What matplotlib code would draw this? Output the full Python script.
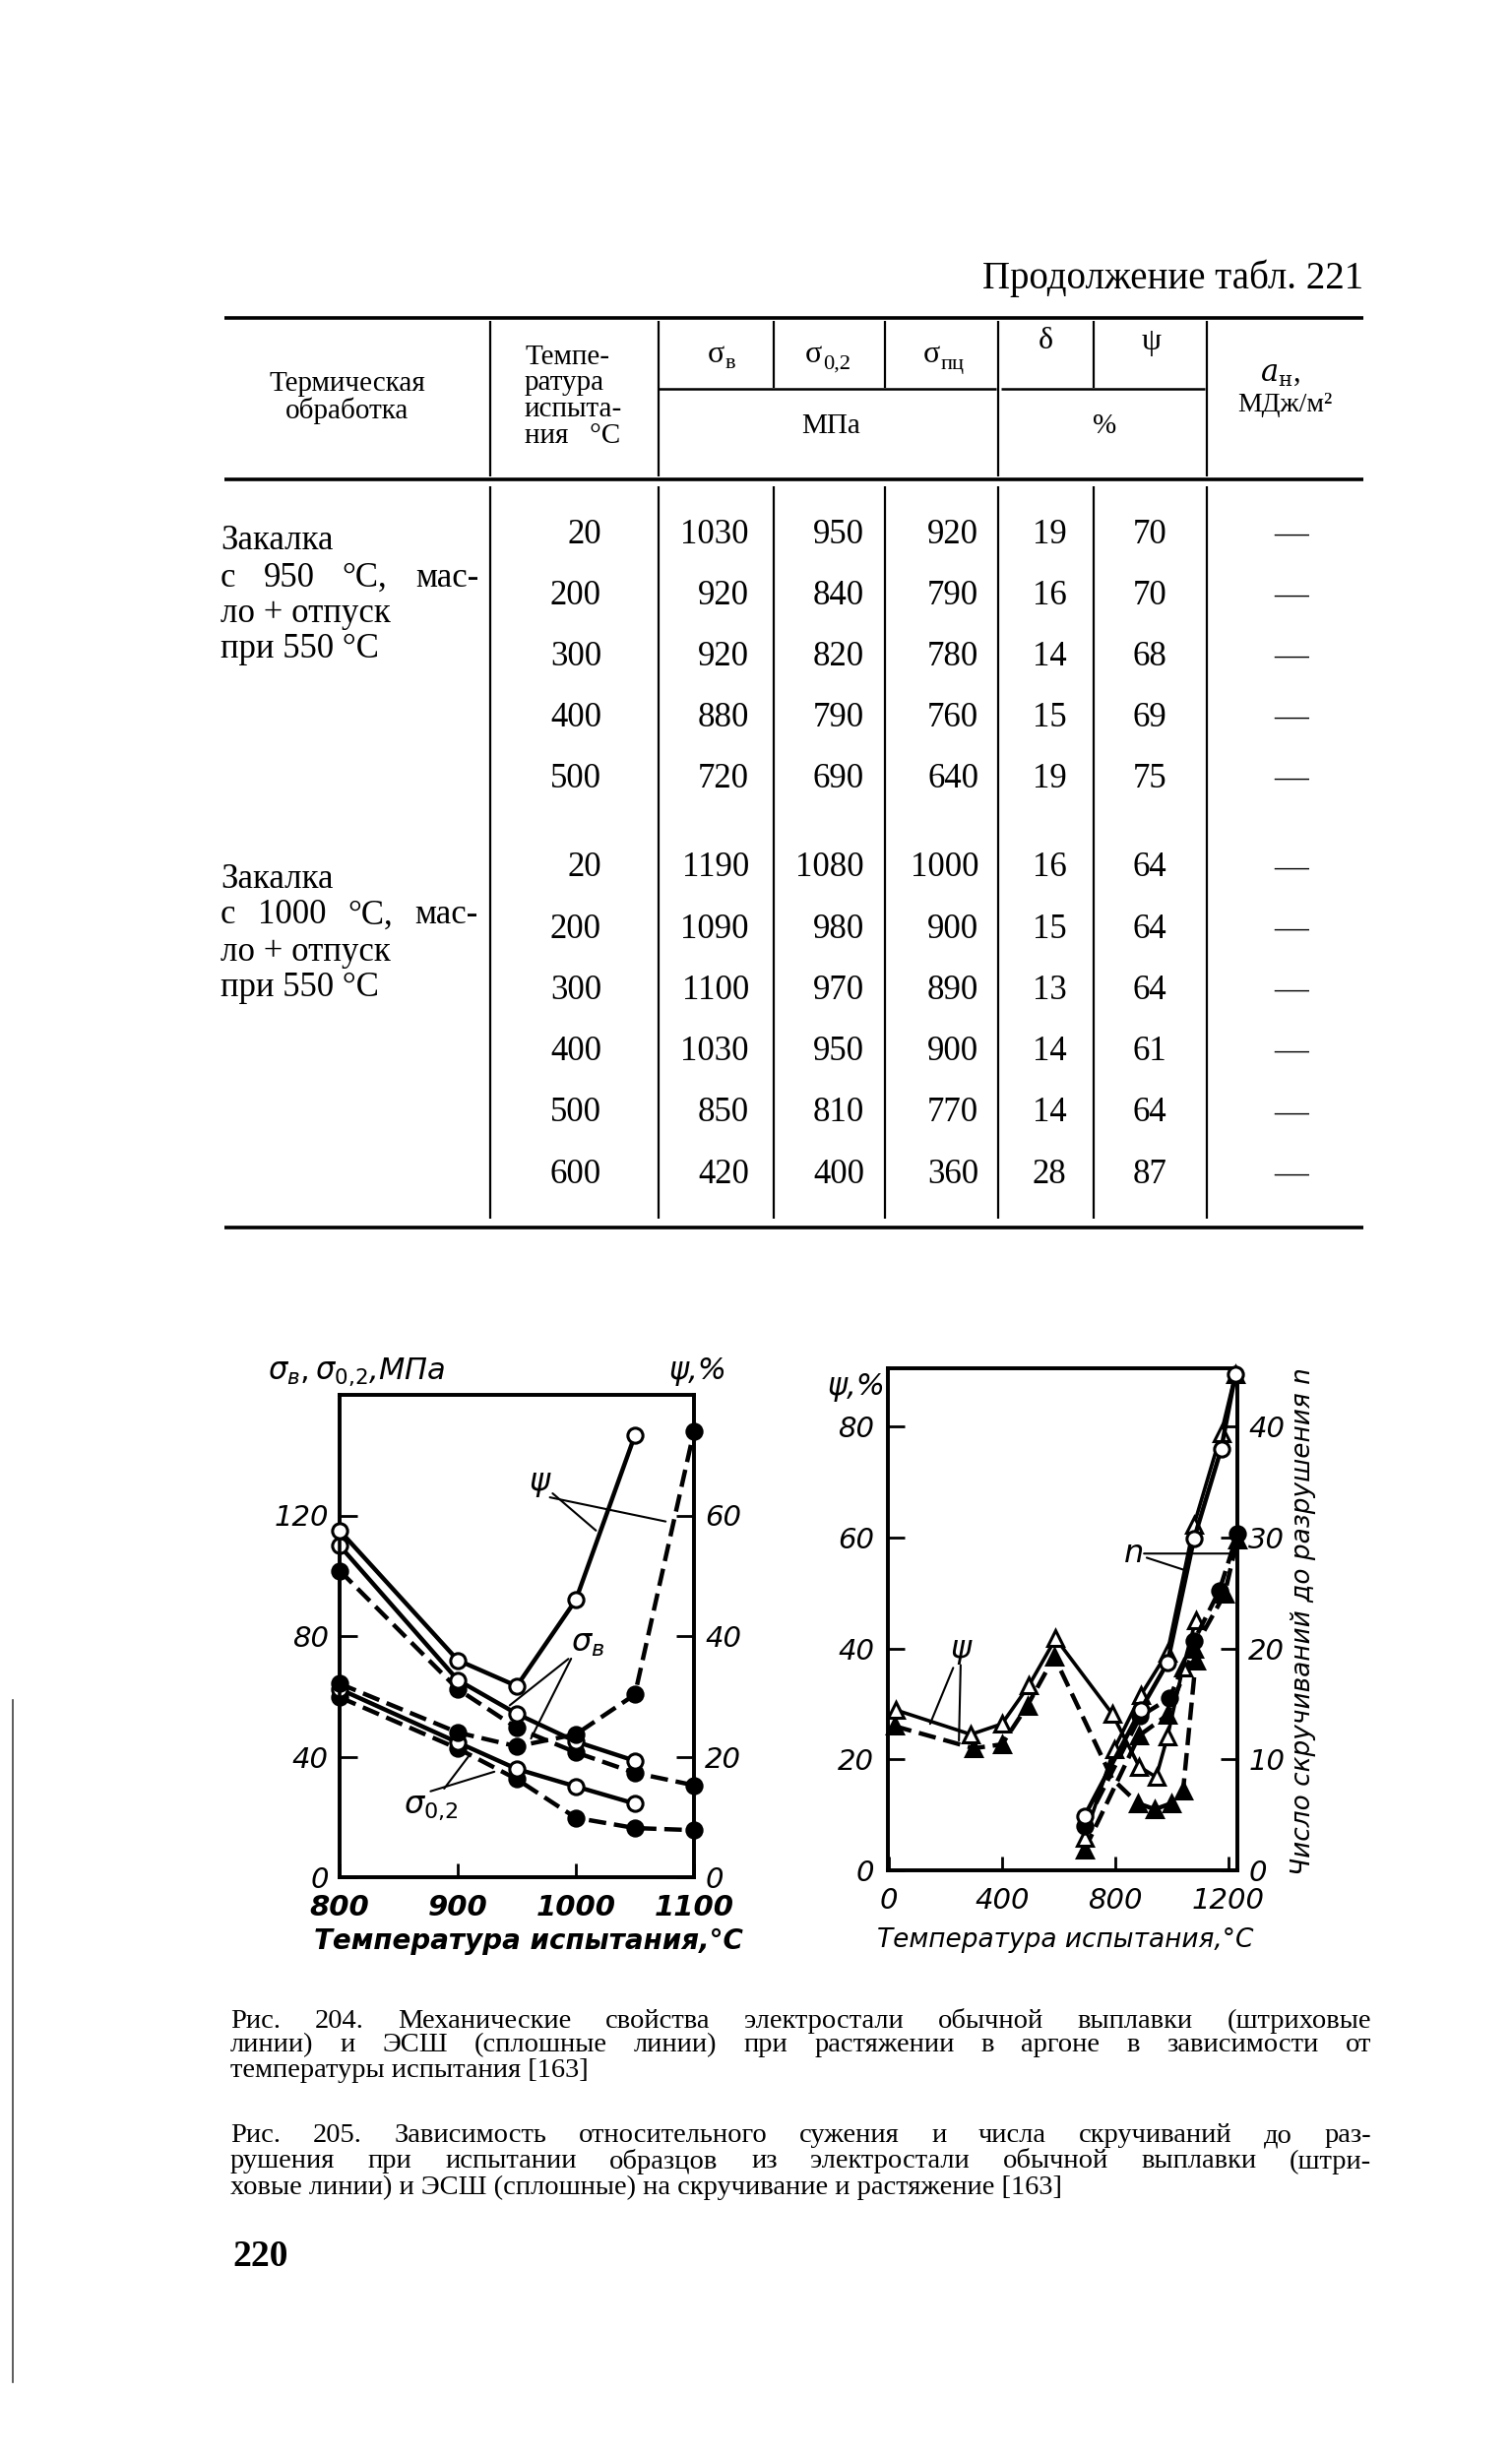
import matplotlib
matplotlib.use("Agg")
import matplotlib.pyplot as plt

plt.rcParams["mathtext.fontset"] = "dejavusans"
plt.rcParams["mathtext.default"] = "it"

# ---------------- table 221 (continued) ----------------
treat_1 = ["Закалка", "с 950 °С, мас-", "ло + отпуск", "при 550 °С"]
treat_2 = ["Закалка", "с 1000 °С, мас-", "ло + отпуск", "при 550 °С"]
temps_1 = [20, 200, 300, 400, 500]
sb_1 = [1030, 920, 920, 880, 720]
s02_1 = [950, 840, 820, 790, 690]
spc_1 = [920, 790, 780, 760, 640]
delta_1 = [19, 16, 14, 15, 19]
psi_1 = [70, 70, 68, 69, 75]
temps_2 = [20, 200, 300, 400, 500, 600]
sb_2 = [1190, 1090, 1100, 1030, 850, 420]
s02_2 = [1080, 980, 970, 950, 810, 400]
spc_2 = [1000, 900, 890, 900, 770, 360]
delta_2 = [16, 15, 13, 14, 14, 28]
psi_2 = [64, 64, 64, 61, 64, 87]

# ---------------- fig. 204 ----------------
t204 = [800, 900, 950, 1000, 1050, 1100]
sb_esh = [110, 65.4, 54.2, 45.0, 38.6]
sb_ord = [101.7, 62.4, 49.5, 41.4, 34.6, 30.5]
s02_esh = [62.4, 44.7, 35.9, 30.1, 24.4]
s02_ord = [59.7, 42.7, 32.5, 19.7, 16.3, 15.6]
psi204_esh = [57.5, 36.0, 31.7, 46.0, 73.3]
psi204_ord = [32.1, 24.0, 21.7, 23.7, 30.3, 74.0]

# ---------------- fig. 205 ----------------
t_psi_esh = [25, 290, 400, 495, 590, 790, 885, 945, 985, 1040, 1085]
psi_esh = [28.9, 24.5, 26.4, 33.3, 41.8, 28.2, 18.7, 16.8, 24.1, 36.6, 45.1]
t_psi_ord = [20, 300, 400, 490, 585, 790, 880, 940, 1000, 1040, 1085]
psi_ord = [26.0, 22.0, 22.7, 29.7, 38.5, 16.5, 12.1, 11.0, 12.1, 14.3, 37.8]
t_tor_esh = [692, 796, 891, 985, 1079, 1175, 1225]
psi_tor_esh = [5.9, 21.8, 31.6, 39.3, 62.3, 78.8, 89.4]
t_tor_ord = [692, 885, 985, 1080, 1187, 1232]
psi_tor_ord = [3.7, 24.3, 28.0, 40.0, 49.8, 59.7]
t_n_esh = [692, 891, 985, 1079, 1175, 1225]
n_esh = [4.9, 14.5, 18.7, 29.9, 38.0, 44.7]
t_n_ord = [692, 889, 992, 1079, 1168, 1232]
n_ord = [4.0, 13.9, 15.5, 20.7, 25.2, 30.3]

cap_204 = ["Рис. 204. Механические свойства электростали обычной выплавки (штриховые",
           "линии) и ЭСШ (сплошные линии) при растяжении в аргоне в зависимости от",
           "температуры испытания [163]"]
cap_205 = ["Рис. 205. Зависимость относительного сужения и числа скручиваний до раз-",
           "рушения при испытании образцов из электростали обычной выплавки (штри-",
           "ховые линии) и ЭСШ (сплошные) на скручивание и растяжение [163]"]

W, H = 1536, 2496
SERIF = ["Liberation Serif", "DejaVu Serif"]
SANS = ["DejaVu Sans"]

fig = plt.figure(figsize=(W / 100, H / 100), dpi=100)
page = fig.add_axes([0, 0, 1, 1], zorder=0)
page.set_xlim(0, W)
page.set_ylim(H, 0)
page.axis("off")


def ptext(x, y, s, size=25, ha="left", va="center", family=SERIF, **kw):
    return page.text(x, y, s, fontsize=size, ha=ha, va=va, family=family, **kw)


def hline(y, x0, x1, lw=2.4):
    page.plot([x0, x1], [y, y], color="black", lw=lw, solid_capstyle="butt")


def vline(x, y0, y1, lw=1.6):
    page.plot([x, x], [y0, y1], color="black", lw=lw, solid_capstyle="butt")


def justified(y, line, x0, x1, size):
    words = line.split()
    arts = [ptext(0, y, w, size=size) for w in words]
    r = fig.canvas.get_renderer()
    widths = [a.get_window_extent(r).width for a in arts]
    gap = (x1 - x0 - sum(widths)) / max(len(words) - 1, 1)
    x = x0
    for a, w in zip(arts, widths):
        a.set_x(x)
        x += w + gap


def sigma(x, y, sub, size=23):
    ptext(x, y, "σ", size=size, ha="right")
    ptext(x + 1, y + 10, sub, size=size * 0.7, ha="left")


# --- page header and table frame ---
ptext(1385, 283, "Продолжение табл. 221", size=28, ha="right")
hline(323, 228, 1385, lw=2.6)
hline(487, 228, 1385, lw=2.6)
hline(1247, 228, 1385, lw=2.6)
hline(395, 669, 1012, lw=1.8)
hline(395, 1017, 1224, lw=1.8)
for x in [498, 669, 1014, 1226]:
    vline(x, 326, 484)
for x in [786, 899, 1111]:
    vline(x, 326, 394)
for x in [498, 669, 786, 899, 1014, 1111, 1226]:
    vline(x, 494, 1238)

ptext(353, 390, "Термическая", size=21, ha="center")
ptext(353, 417, "обработка", size=21, ha="center")
for i, s in enumerate(["Темпе-", "ратура", "испыта-", "ния   °С"]):
    ptext(533, 363 + i * 26.5, s, size=21)
sigma(736, 360, "в")
sigma(835, 360, "0,2")
sigma(955, 360, "пц")
ptext(1062, 347, "δ", size=23, ha="center")
ptext(1170, 347, "ψ", size=23, ha="center")
ptext(1300, 380, r"$a_{\mathrm{н}}$,", size=22, ha="center", math_fontfamily="dejavuserif")
ptext(1305, 411, "МДж/м²", size=20, ha="center")
ptext(844, 433, "МПа", size=21, ha="center")
ptext(1122, 433, "%", size=21, ha="center")

# --- table body ---
for rows, y0, step, lines, ly in [
        ((temps_1, sb_1, s02_1, spc_1, delta_1, psi_1), 543, 62, treat_1, 550),
        ((temps_2, sb_2, s02_2, spc_2, delta_2, psi_2), 882, 62.2, treat_2, 893)]:
    tt, a, b, c, d, p = rows
    for i in range(len(tt)):
        y = y0 + i * step
        ptext(611, y, str(tt[i]), ha="right")
        ptext(761, y, str(a[i]), ha="right")
        ptext(878, y, str(b[i]), ha="right")
        ptext(994, y, str(c[i]), ha="right")
        ptext(1066, y, str(d[i]), ha="center")
        ptext(1168, y, str(p[i]), ha="center")
        ptext(1312, y, "—", ha="center")
    ptext(224, ly, lines[0])
    justified(ly + 37, lines[1], 224, 486, 25)
    ptext(224, ly + 74, lines[2])
    ptext(224, ly + 110, lines[3])

# ---------------- chart styles ----------------
SOLID = dict(color="black", lw=3.2, ls="-", clip_on=False)
THIN = dict(color="black", lw=2.6, ls="-", clip_on=False)
DASH = dict(color="black", lw=3.2, ls=(0, (4, 1.8)), clip_on=False)
OPEN_O = dict(marker="o", ms=11, mfc="white", mec="black", mew=2.2)
FULL_O = dict(marker="o", ms=11, mfc="black", mec="black", mew=2.2)
OPEN_T = dict(marker="^", ms=12, mfc="white", mec="black", mew=2.2)
FULL_T = dict(marker="^", ms=12, mfc="black", mec="black", mew=2.2)
TICKFONT = dict(fontsize=21, style="italic", family=SANS)
LEAD = dict(arrowstyle="-", lw=1.5, color="black", shrinkA=0, shrinkB=0)


def frame(ax):
    for s in ax.spines.values():
        s.set_linewidth(2.6)


# ---------------- fig. 204 (left chart) ----------------
ax1 = fig.add_axes([345 / W, 1 - 1907 / H, 360 / W, 490 / H], zorder=2)
ax1b = ax1.twinx()
frame(ax1)
frame(ax1b)
n5 = len(sb_esh)
ax1.plot(t204[:n5], sb_esh, **SOLID, **OPEN_O, zorder=4)
ax1.plot(t204, sb_ord, **DASH, **FULL_O, zorder=3)
ax1.plot(t204[:n5], s02_esh, **SOLID, **OPEN_O, zorder=4)
ax1.plot(t204, s02_ord, **DASH, **FULL_O, zorder=3)
ax1b.plot(t204[:len(psi204_esh)], psi204_esh, **SOLID, **OPEN_O, zorder=4)
ax1b.plot(t204, psi204_ord, **DASH, **FULL_O, zorder=3)

ax1.set_xlim(800, 1100)
ax1.set_ylim(0, 160)
ax1b.set_ylim(0, 80)
ax1.set_xticks([800, 900, 1000, 1100])
ax1.set_xticklabels(["800", "900", "1000", "1100"], fontsize=21, style="italic",
                    fontweight="bold", family=SANS)
ax1.set_yticks([0, 40, 80, 120])
ax1.set_yticklabels(["0", "40", "80", "120"], **TICKFONT)
ax1b.set_yticks([0, 20, 40, 60])
ax1b.set_yticklabels(["0", "20", "40", "60"], **TICKFONT)
ax1.tick_params(axis="x", direction="in", length=10, width=2, pad=12)
ax1.tick_params(axis="y", direction="in", length=13, width=2, pad=8)
ax1b.tick_params(axis="y", direction="in", length=13, width=2, pad=8)

ax1.annotate("ψ", xy=(1017, 115), xytext=(978, 126), fontsize=23, style="italic",
             ha="right", va="bottom", arrowprops=LEAD)
ax1.annotate("", xy=(1076, 118), xytext=(978, 126), arrowprops=LEAD)
ax1.annotate(r"$\sigma_в$", xy=(944, 57), xytext=(996, 72.5), fontsize=23,
             ha="left", va="bottom", arrowprops=LEAD)
ax1.annotate("", xy=(962, 46), xytext=(996, 72.5), arrowprops=LEAD)
ax1.annotate(r"$\sigma_{0{,}2}$", xy=(909, 40), xytext=(877, 28.5), fontsize=23,
             ha="center", va="top", arrowprops=LEAD)
ax1.annotate("", xy=(931, 35), xytext=(877, 28.5), arrowprops=LEAD)

ptext(272, 1394, r"$\sigma_в,\sigma_{0{,}2}$,МПа", size=22, family=SANS, style="italic")
ptext(680, 1394, "ψ,%", size=22, family=SANS, style="italic")
ptext(537, 1972, "Температура испытания,°С", size=20, ha="center", family=SANS,
      style="italic", fontweight="bold")

# ---------------- fig. 205 (right chart) ----------------
ax2 = fig.add_axes([902 / W, 1 - 1900 / H, 355 / W, 510 / H], zorder=2)
ax2b = ax2.twinx()
frame(ax2)
frame(ax2b)
ax2.plot(t_psi_esh, psi_esh, **THIN, **OPEN_T, zorder=4)
ax2.plot(t_psi_ord, psi_ord, **DASH, **FULL_T, markevery=[0, 1, 2, 3, 4, 6, 7, 8, 9, 10], zorder=3)
ax2.plot(t_tor_esh, psi_tor_esh, **THIN, **OPEN_T, zorder=4)
ax2.plot(t_tor_ord, psi_tor_ord, **DASH, **FULL_T, zorder=3)
ax2b.plot(t_n_esh, n_esh, **SOLID, **OPEN_O, zorder=4)
ax2b.plot(t_n_ord, n_ord, **DASH, **FULL_O, zorder=3)

ax2.set_xlim(-3, 1232)
ax2.set_ylim(0, 90.5)
ax2b.set_ylim(0, 45.25)
ax2.set_xticks([0, 400, 800, 1200])
ax2.set_xticklabels(["0", "400", "800", "1200"], **TICKFONT)
ax2.set_yticks([0, 20, 40, 60, 80])
ax2.set_yticklabels(["0", "20", "40", "60", "80"], **TICKFONT)
ax2b.set_yticks([0, 10, 20, 30, 40])
ax2b.set_yticklabels(["0", "10", "20", "30", "40"], **TICKFONT)
ax2.tick_params(axis="x", direction="in", length=10, width=2, pad=12)
ax2.tick_params(axis="y", direction="in", length=12, width=2, pad=10)
ax2b.tick_params(axis="y", direction="in", length=12, width=2, pad=8)

ax2.annotate("ψ", xy=(146, 26.4), xytext=(254, 37), fontsize=23, style="italic",
             ha="center", va="bottom", arrowprops=LEAD)
ax2.annotate("", xy=(248, 23.4), xytext=(254, 37), arrowprops=LEAD)
ax2.annotate("n", xy=(1041, 54.2), xytext=(902, 57.1), fontsize=23, style="italic",
             ha="right", va="center", arrowprops=LEAD)
ax2.annotate("", xy=(1232, 57.1), xytext=(902, 57.1), arrowprops=LEAD)

ptext(870, 1409, "ψ,%", size=22, ha="center", family=SANS, style="italic")
ptext(1324, 1647, "Число скручиваний до разрушения n", size=19, ha="center",
      family=SANS, style="italic", rotation=90)
ptext(1082, 1971, "Температура испытания,°С", size=19, ha="center", family=SANS,
      style="italic")

# ---------------- captions ----------------
for i, line in enumerate(cap_204):
    y = 2053 + i * 25
    if i < 2:
        justified(y, line, 234, 1393, 20.5)
    else:
        ptext(234, y, line, size=20.5)
for i, line in enumerate(cap_205):
    y = 2170 + i * 26
    if i < 2:
        justified(y, line, 234, 1393, 20.5)
    else:
        ptext(234, y, line, size=20.5)

ptext(236, 2292, "220", size=27, fontweight="bold")
page.plot([13, 13], [1727, 2420], color="0.25", lw=1.2)

fig.savefig("out.png", dpi=100)
